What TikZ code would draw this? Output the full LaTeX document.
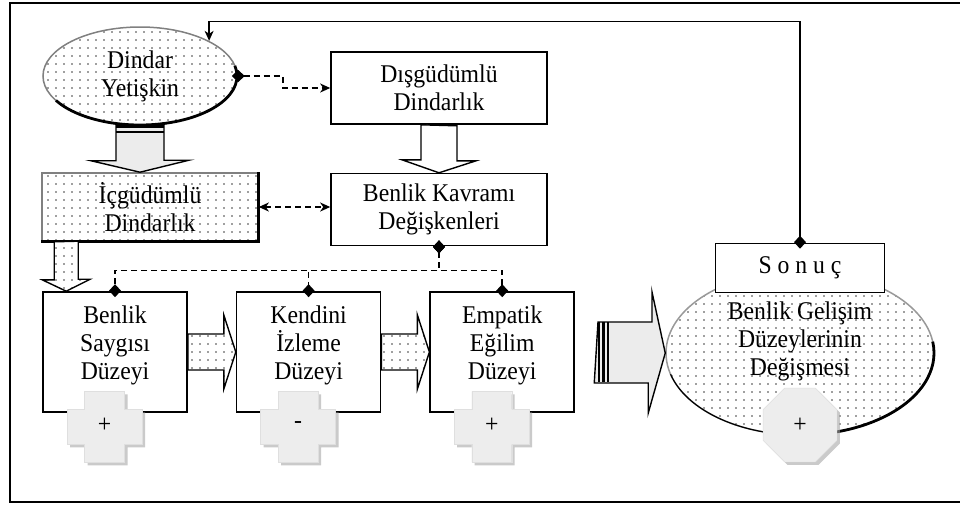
\documentclass[tikz,border=0pt]{standalone}
\usepackage{fontspec}
\setmainfont[FakeStretch=0.93]{Liberation Serif}
\usetikzlibrary{positioning,shapes.geometric,arrows.meta,patterns.meta,shadows}

\tikzset{
	box/.style={draw,rectangle,line width=1.6pt,align=center,inner sep=2pt},
	lbl/.style={align=center,yshift=7pt},
	dotfill/.style={preaction={fill=white},pattern={Dots[distance=8pt,radius=.8pt]},pattern color=black!75},
	texture/.style={fill=gray!15},
	fatarrow/.style={draw,line width=1.4pt,line join=miter},
	conn/.style={line width=1.5pt,dash pattern=on 6pt off 4pt},
	plusblock/.style={fill=gray!14,draw=gray!25,drop shadow={shadow xshift=3pt,shadow yshift=-3pt,fill=gray!70,opacity=.6}},
	dtip/.tip={Diamond[length=13pt,width=12pt]},
	stip/.tip={Stealth[length=10pt,width=9pt,inset=3pt]},
}

\begin{document}
\begin{tikzpicture}[x=1pt,y=-1pt,font=\fontsize{25.5}{28}\selectfont]
	\useasboundingbox (0,0) rectangle (960,504);
	\draw[line width=1.8pt] (965,3) -- (10,3) -- (10,502) -- (965,502);

	\node[ellipse,draw=gray,line width=1.5pt,dotfill,minimum width=194pt,minimum height=98pt,align=center] (dindar) at (140,76) {Dindar\\Yetişkin};
	\draw[line width=2.8pt] ([shift={(12:97pt and 49pt)}]dindar.center) arc[start angle=12,end angle=-150,x radius=97pt,y radius=49pt];
	\node[box,minimum width=216pt,minimum height=72pt] (disg) at (439,88) {Dışgüdümlü\\Dindarlık};
	\node[box,minimum width=216pt,minimum height=72pt,below=48pt of disg] (kavram) {Benlik Kavramı\\Değişkenleri};
	\node[box,draw=gray,dotfill,minimum width=216pt,minimum height=68pt] (icg) at (150,207) {İçgüdümlü\\Dindarlık};
	\draw[line width=2.8pt] (icg.north east) -- (icg.south east) -- (icg.south west);

	\node[box,minimum width=144pt,minimum height=120pt,label={[lbl,name=saygitxt]center:Benlik\\Saygısı\\Düzeyi}] (saygi) at (115,352) {};
	\node[box,minimum width=144pt,minimum height=120pt,right=48pt of saygi,label={[lbl,name=izlemetxt]center:Kendini\\İzleme\\Düzeyi}] (izleme) {};
	\node[box,minimum width=144pt,minimum height=120pt,right=48pt of izleme,label={[lbl,name=empatiktxt]center:Empatik\\Eğilim\\Düzeyi}] (empatik) {};

	\node[ellipse,draw=gray!80,line width=1.5pt,dotfill,minimum width=268pt,minimum height=164pt,label={[align=center,yshift=12pt,name=degismetxt]center:Benlik Gelişim\\Düzeylerinin\\Değişmesi}] (degisme) at (800,353) {};
	\draw[line width=1.2pt] ([shift={(-95:134pt and 82pt)}]degisme.center) arc[start angle=-95,end angle=-165,x radius=134pt,y radius=82pt];
	\draw[line width=2.8pt] ([shift={(8:134pt and 82pt)}]degisme.center) arc[start angle=8,end angle=-95,x radius=134pt,y radius=82pt];
	\node[regular polygon,regular polygon sides=8,minimum size=80pt,inner sep=0pt,plusblock] (degismeplus) at (800,425) {+};
	\node[box,fill=white,minimum width=169pt,minimum height=49pt] (sonuc) at (800,268) {S o n u ç};

	\foreach \b/\s in {saygi/+,izleme/-,empatik/+}{
		\filldraw[plusblock] ([xshift=-10.5pt,yshift=-14pt]\b.south) ++(-20,-35.5) -- ++(40,0) -- ++(0,18) -- ++(17.5,0) -- ++(0,35) -- ++(-17.5,0) -- ++(0,18) -- ++(-40,0) -- ++(0,-18) -- ++(-17.5,0) -- ++(0,-35) -- ++(17.5,0) -- cycle;
		\node (\b plus) at ([xshift=-10.5pt,yshift=-12pt]\b.south) {\s};
	}

	\filldraw[fatarrow,texture] (dindar.south) ++(-24,0) -- ++(0,35) -- ++(-25,0) -- (dindar.south |- icg.north) -- ++(49,-12) -- ++(-25,0) -- ++(0,-35) -- cycle;
	\draw[line width=2.2pt] ([xshift=-24pt,yshift=-1pt]dindar.south) -- ++(48,0) ++(0,5) -- ++(-48,0);
	\filldraw[fatarrow,fill=white] (disg.south) ++(-18,0) -- ++(0,35) -- ++(-19,0) -- (kavram.north) -- ++(37,-12) -- ++(-19,0) -- ++(0,-35) -- cycle;
	\filldraw[fatarrow,dotfill] ([xshift=13pt]icg.south west) -- ++(0,38) -- ++(-12,0) -- ([xshift=25pt]icg.south west |- saygi.north) -- ++(24,-12) -- ++(-12,0) -- ++(0,-38) -- cycle;
	\foreach \a/\b in {saygi/izleme,izleme/empatik}
		\filldraw[fatarrow,dotfill] (\a.east) ++(0,-18) -- ++(36,0) -- ++(0,-19) -- (\b.west) -- ++(-12,37) -- ++(0,-19) -- ++(-36,0) -- cycle;
	\coordinate (bigtail) at ([xshift=23pt]empatik.east);
	\filldraw[fatarrow,texture] (bigtail) ++(0,-30) -- ++(54,0) -- ++(0,-30) -- (degisme.west) -- ++(-17,60) -- ++(0,-30) -- ++(-54,0) -- cycle;
	\foreach \s in {1,5.5,10}
		\draw[line width=2.2pt] ([xshift=\s pt]bigtail) ++(0,-30) -- ++(0,60);

	\draw[conn,dtip-stip,shorten <=-6pt] (dindar.east) -- ++(45,0) -- ++(0,12) -- (disg.west);
	\draw[conn,stip-stip] (icg.east) -- (icg.east -| kavram.west);
	\foreach \b in {saygi,izleme,empatik}
		\draw[conn,dtip-dtip,shorten <=-6pt,shorten >=-6pt] (kavram.south) -- ++(0,24) -| (\b.north);
	\draw[line width=1.5pt,dtip-stip,shorten <=-6pt] (sonuc.north) -- ++(0,-221) -| (dindar.north east);
\end{tikzpicture}
\end{document}
